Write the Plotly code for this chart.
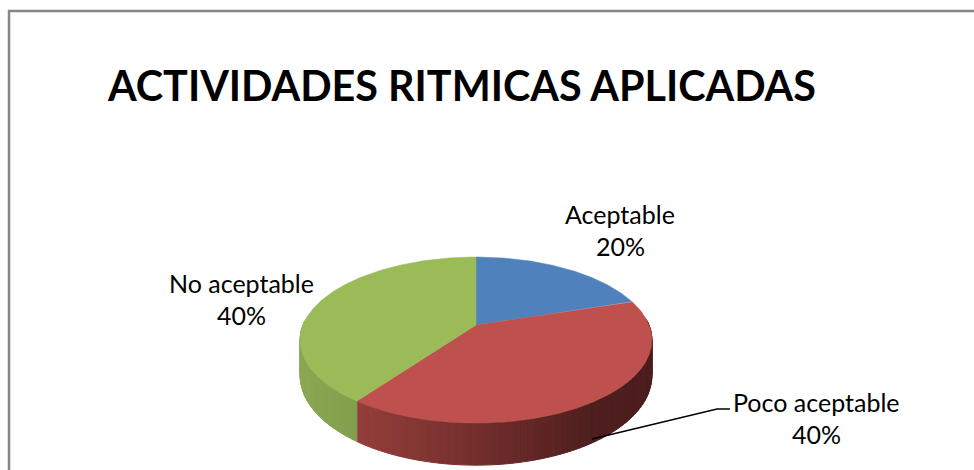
import math
import plotly.graph_objects as go

categories = ["Aceptable", "Poco aceptable", "No aceptable"]
values = [20, 40, 40]
title_text = "ACTIVIDADES RITMICAS APLICADAS"
top_colors = ["#4F81BD", "#BE504D", "#9BBB59"]
# side-wall shading stops: (position along x across the wall 0..1, colour)
side_stops = [
    [(0, (60, 85, 125)), (1, (60, 85, 125))],
    [(0, (148, 62, 58)), (0.45, (112, 45, 43)), (0.8, (78, 30, 30)), (1, (76, 29, 29))],
    [(0, (138, 168, 82)), (1, (112, 140, 64))],
]
label_pos = [(620, 214), (816, 402), (241, 283)]
leader = [(592, 439), (717, 409), (730, 409)]

W, H = 974, 470
LINE_STEP = 32
CX, CY = 476, 325
A, B, K = 173.0, 80.3, 0.181
DEPTH = 34.5


def project(clock_deg, drop=0.0):
    t = math.radians(clock_deg)
    u, v = math.sin(t), math.cos(t)
    w = 1 + K * v
    return CX + A * u / w, CY - B * v / w + drop / w


def lerp_color(stops, f):
    for (p0, c0), (p1, c1) in zip(stops, stops[1:]):
        if f <= p1:
            s = (f - p0) / (p1 - p0) if p1 > p0 else 0
            c = [round(a + (b - a) * s) for a, b in zip(c0, c1)]
            return f"rgb({c[0]},{c[1]},{c[2]})"
    c = stops[-1][1]
    return f"rgb({c[0]},{c[1]},{c[2]})"


fig = go.Figure()

# slice angles come from the values
total = sum(values)
bounds = [0.0]
for val in values:
    bounds.append(bounds[-1] + 360.0 * val / total)

# side walls
for i in range(len(values)):
    a0, a1 = bounds[i], bounds[i + 1]
    n = max(2, int((a1 - a0) / 2))
    steps = [a0 + (a1 - a0) * j / n for j in range(n + 1)]
    xs = [project(a)[0] for a in steps]
    xmin, xmax = min(xs), max(xs)
    for j in range(n):
        p = [project(steps[j]), project(steps[j + 1]),
             project(steps[j + 1], DEPTH), project(steps[j], DEPTH)]
        if p[0][1] < CY - 5 and p[1][1] < CY - 5:
            continue
        mid = (p[0][0] + p[1][0]) / 2
        col = lerp_color(side_stops[i], (mid - xmin) / (xmax - xmin))
        fig.add_trace(go.Scatter(
            x=[q[0] for q in p] + [p[0][0]], y=[q[1] for q in p] + [p[0][1]],
            mode="lines", fill="toself", fillcolor=col,
            line=dict(color=col, width=1), hoverinfo="skip", showlegend=False))

# top faces
for i, cat in enumerate(categories):
    a0, a1 = bounds[i], bounds[i + 1]
    n = int((a1 - a0) * 2)
    pts = [project(a0 + (a1 - a0) * j / n) for j in range(n + 1)]
    fig.add_trace(go.Scatter(
        x=[CX] + [q[0] for q in pts] + [CX], y=[CY] + [q[1] for q in pts] + [CY],
        mode="lines", fill="toself", fillcolor=top_colors[i],
        line=dict(color=top_colors[i], width=0.5), name=cat,
        hoverinfo="name", showlegend=False))

# leader line
fig.add_trace(go.Scatter(x=[q[0] for q in leader], y=[q[1] for q in leader], mode="lines",
                         line=dict(color="#000000", width=1.5), hoverinfo="skip", showlegend=False))

annotations = [
    dict(x=461.5, y=85, text=f"<b>{title_text}</b>", showarrow=False, xref="x", yref="y",
         font=dict(family="Lato", size=41.3, color="#000000")),
]
for cat, val, (lx, ly) in zip(categories, values, label_pos):
    for k, line in enumerate([cat, f"{round(100 * val / total)}%"]):
        annotations.append(dict(
            x=lx, y=ly + k * LINE_STEP, xref="x", yref="y", showarrow=False,
            text=line, font=dict(family="Lato", size=25, color="#000000")))

frame = dict(type="path", path=f"M 9,{H + 20} L 9,11 L {W + 20},11 L {W + 20},{H + 20}",
             line=dict(color="#868686", width=2.5), xref="x", yref="y")

fig.update_layout(
    width=W, height=H, margin=dict(l=0, r=0, t=0, b=0),
    paper_bgcolor="#ffffff", plot_bgcolor="#ffffff", showlegend=False,
    xaxis=dict(range=[0, W], visible=False, fixedrange=True),
    yaxis=dict(range=[H, 0], visible=False, fixedrange=True),
    annotations=annotations, shapes=[frame],
)
fig.write_html("out.html", config={"displayModeBar": False},
               post_script="document.body.style.margin='0';document.body.style.overflow='hidden';")
